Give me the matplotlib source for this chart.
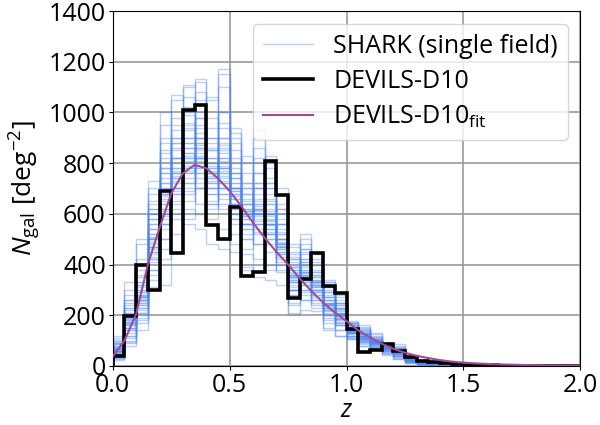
import numpy as np
import matplotlib
matplotlib.use("Agg")
import matplotlib.pyplot as plt

plt.rcParams["font.family"] = ["Open Sans", "DejaVu Sans"]
plt.rcParams["mathtext.fontset"] = "custom"
plt.rcParams["mathtext.rm"] = "Open Sans"
plt.rcParams["mathtext.it"] = "Open Sans:italic"
plt.rcParams["mathtext.bf"] = "Open Sans:bold"

# redshift bins (width 0.05 from 0 to 2)
z_edges = np.round(np.arange(0.0, 2.0001, 0.05), 3)

# DEVILS-D10 counts per bin [deg^-2]
devils = [40, 195, 400, 300, 690, 445, 1010, 1030, 555, 500,
          625, 353, 370, 808, 676, 267, 342, 447, 315, 287,
          145, 53, 62, 85, 57, 35, 19, 15, 10, 6,
          4, 3, 2, 1, 1, 1, 0, 0, 0, 0]

# fitted N(z) evaluated on the bin edges
fit_z = z_edges
fit_n = [37, 100, 205, 400, 545, 680, 760, 793, 780, 740,
         690, 630, 565, 505, 450, 400, 345, 295, 250, 210,
         177, 140, 113, 88, 68, 52, 40, 31, 23, 17,
         13, 10, 8, 6, 5, 4, 3, 2, 2, 1, 1]

# SHARK light-cone single-field realisations (bins 0 .. 1.5)
shark = [
    [55, 160, 250, 470, 620, 720, 800, 840, 760, 740, 690, 590, 610, 540, 470, 340, 370, 310, 230, 200, 140, 112, 95, 68, 52, 24, 12, 7, 4, 2],
    [80, 210, 300, 520, 700, 800, 900, 880, 700, 820, 640, 560, 650, 600, 500, 380, 330, 290, 260, 180, 150, 120, 90, 75, 60, 28, 10, 9, 5, 3],
    [40, 130, 220, 420, 560, 680, 760, 780, 820, 700, 720, 640, 560, 520, 430, 300, 400, 340, 210, 220, 130, 105, 100, 62, 48, 20, 14, 6, 3, 1],
    [110, 300, 480, 700, 950, 1050, 1100, 1120, 1050, 1150, 920, 800, 900, 800, 680, 470, 500, 420, 330, 270, 175, 155, 125, 90, 80, 38, 22, 15, 10, 6],
    [25, 80, 140, 310, 320, 450, 560, 540, 480, 460, 450, 390, 350, 340, 320, 210, 220, 215, 140, 120, 108, 80, 68, 47, 28, 12, 4, 1, 0, 0],
    [65, 180, 270, 500, 660, 760, 840, 800, 730, 790, 700, 610, 590, 580, 490, 360, 350, 330, 250, 190, 145, 118, 92, 72, 55, 26, 13, 8, 5, 2],
    [70, 150, 240, 450, 600, 700, 780, 850, 790, 760, 660, 620, 620, 530, 460, 330, 380, 300, 240, 210, 135, 110, 98, 70, 58, 22, 11, 7, 4, 2],
    [50, 190, 280, 540, 720, 820, 880, 820, 740, 810, 740, 580, 640, 610, 520, 390, 360, 350, 270, 230, 155, 125, 88, 78, 62, 30, 15, 10, 6, 3],
    [90, 230, 330, 580, 780, 880, 960, 950, 880, 900, 780, 680, 720, 660, 560, 420, 420, 370, 290, 240, 160, 135, 108, 80, 66, 32, 17, 11, 7, 4],
    [35, 110, 190, 380, 500, 600, 680, 700, 640, 620, 580, 500, 480, 450, 400, 280, 290, 260, 190, 160, 120, 95, 80, 58, 40, 16, 8, 4, 2, 1],
    [60, 170, 260, 490, 640, 740, 820, 830, 770, 770, 680, 600, 600, 560, 480, 350, 360, 320, 240, 200, 140, 115, 95, 70, 54, 25, 12, 8, 5, 2],
    [75, 200, 290, 510, 680, 780, 860, 860, 800, 780, 700, 620, 630, 590, 500, 360, 370, 330, 250, 210, 148, 120, 97, 73, 57, 27, 13, 8, 5, 3],
    [45, 140, 230, 440, 590, 690, 770, 790, 720, 720, 640, 560, 570, 520, 450, 320, 340, 300, 220, 185, 132, 108, 90, 66, 50, 22, 10, 6, 3, 1],
    [100, 260, 400, 620, 850, 950, 1020, 1000, 940, 1000, 850, 720, 800, 720, 620, 440, 460, 400, 310, 250, 168, 140, 115, 85, 72, 35, 20, 13, 8, 5],
    [30, 95, 170, 340, 420, 520, 620, 600, 560, 540, 520, 440, 420, 400, 370, 250, 260, 240, 170, 140, 115, 88, 75, 52, 35, 14, 6, 3, 1, 0],
    [58, 175, 255, 480, 650, 730, 810, 820, 760, 750, 690, 600, 605, 555, 475, 345, 355, 315, 235, 198, 142, 113, 94, 69, 53, 24, 11, 7, 4, 2],
    [68, 165, 265, 505, 610, 770, 790, 870, 780, 730, 670, 590, 620, 570, 470, 355, 345, 325, 245, 205, 138, 117, 96, 71, 56, 25, 12, 8, 4, 2],
    [85, 220, 320, 560, 740, 860, 930, 900, 850, 870, 760, 660, 700, 640, 540, 400, 410, 360, 280, 230, 158, 130, 105, 78, 63, 30, 16, 10, 6, 3],
    [48, 150, 210, 410, 540, 650, 720, 740, 680, 680, 620, 540, 530, 500, 440, 300, 320, 280, 215, 175, 128, 102, 86, 63, 47, 20, 9, 5, 3, 1],
    [62, 185, 275, 470, 670, 750, 830, 810, 750, 800, 700, 610, 615, 575, 485, 365, 365, 335, 245, 195, 145, 119, 93, 74, 56, 26, 13, 8, 5, 2],
    [72, 120, 310, 600, 560, 900, 700, 980, 650, 850, 600, 700, 520, 650, 420, 300, 450, 280, 300, 170, 160, 100, 110, 60, 70, 18, 14, 9, 3, 2],
    [42, 240, 200, 380, 780, 620, 950, 720, 900, 640, 800, 520, 700, 480, 560, 410, 300, 380, 200, 250, 125, 140, 78, 82, 45, 33, 8, 11, 6, 1],
    [95, 180, 360, 650, 500, 820, 650, 1050, 720, 1100, 680, 760, 600, 740, 450, 330, 480, 250, 330, 160, 170, 90, 120, 55, 75, 21, 18, 6, 5, 3],
    [52, 100, 230, 520, 880, 700, 1000, 760, 980, 700, 880, 560, 820, 500, 640, 280, 400, 400, 180, 260, 118, 150, 70, 88, 40, 36, 10, 12, 2, 2],
    [64, 280, 270, 460, 640, 980, 860, 900, 620, 960, 560, 650, 540, 680, 380, 430, 320, 300, 270, 140, 150, 125, 100, 65, 60, 24, 16, 7, 7, 3],
    [38, 160, 420, 560, 720, 580, 740, 1080, 850, 820, 760, 460, 760, 620, 520, 240, 520, 350, 220, 230, 110, 118, 82, 76, 30, 18, 6, 9, 2, 0],
    [120, 200, 250, 430, 1000, 760, 1110, 820, 700, 880, 720, 600, 680, 560, 600, 370, 380, 440, 250, 200, 140, 108, 130, 50, 85, 28, 20, 10, 8, 4],
    [58, 330, 300, 680, 600, 1070, 780, 860, 1060, 760, 940, 720, 580, 830, 480, 310, 420, 330, 340, 210, 176, 160, 88, 92, 55, 39, 12, 18, 4, 2],
    [28, 140, 180, 540, 460, 700, 580, 700, 760, 1000, 620, 830, 640, 600, 700, 480, 280, 260, 240, 280, 132, 96, 104, 58, 66, 15, 25, 5, 6, 1],
    [86, 90, 350, 620, 820, 640, 900, 940, 580, 700, 480, 380, 930, 700, 440, 360, 360, 320, 200, 190, 155, 130, 75, 86, 48, 30, 9, 8, 12, 3],
    [46, 210, 280, 730, 560, 880, 820, 640, 800, 1170, 700, 540, 560, 380, 560, 200, 340, 370, 290, 120, 105, 80, 115, 68, 38, 20, 11, 4, 3, 1],
    [66, 170, 500, 470, 680, 740, 1060, 900, 680, 660, 900, 580, 720, 560, 480, 390, 260, 300, 150, 240, 165, 112, 66, 45, 58, 26, 14, 10, 4, 2],
    [102, 250, 320, 360, 760, 820, 690, 1130, 900, 780, 640, 640, 480, 720, 500, 340, 440, 230, 260, 215, 138, 145, 92, 80, 26, 12, 18, 7, 5, 2],
    [33, 120, 260, 600, 900, 680, 880, 760, 740, 900, 740, 700, 600, 640, 530, 450, 330, 330, 230, 170, 145, 122, 100, 72, 64, 32, 7, 13, 3, 0],
    [78, 190, 210, 500, 700, 930, 760, 820, 820, 720, 600, 600, 760, 540, 460, 300, 390, 290, 310, 225, 128, 104, 98, 62, 50, 22, 13, 6, 6, 2],
    [56, 230, 380, 420, 580, 780, 940, 780, 700, 840, 820, 500, 660, 780, 410, 420, 370, 410, 230, 185, 150, 138, 84, 77, 70, 28, 15, 9, 4, 3],
    [70, 150, 290, 640, 760, 700, 840, 980, 760, 680, 700, 680, 560, 600, 580, 330, 300, 270, 270, 205, 170, 110, 108, 84, 44, 24, 10, 8, 5, 1],
    [44, 260, 240, 500, 620, 900, 720, 880, 860, 940, 660, 560, 860, 520, 500, 380, 460, 340, 200, 250, 135, 128, 90, 70, 60, 30, 17, 11, 6, 2],
    [92, 175, 330, 580, 840, 760, 990, 700, 640, 780, 760, 640, 620, 700, 620, 350, 350, 360, 320, 160, 120, 100, 95, 88, 52, 25, 12, 7, 3, 2],
    [60, 200, 270, 450, 680, 850, 800, 920, 780, 860, 580, 610, 700, 560, 470, 300, 410, 310, 260, 200, 142, 124, 102, 66, 58, 27, 13, 9, 5, 2],
]

fig = plt.figure(figsize=(6.0, 4.25), dpi=100)
ax = fig.add_axes([0.188, 0.139, 0.779, 0.835])

nbins = len(z_edges) - 1
for i, row in enumerate(shark):
    vals = np.zeros(nbins)
    vals[:len(row)] = row
    ax.stairs(vals, z_edges, baseline=0, color="#4f86f0", alpha=0.38,
              lw=1.0, label="SHARK (single field)" if i == 0 else None, zorder=2)

ax.stairs(devils, z_edges, baseline=0, color="black", lw=2.6,
          label="DEVILS-D10", zorder=3)
ax.plot(fit_z, fit_n, color="#a04b94", lw=1.5,
        label=r"DEVILS-D10$_{\rm fit}$", zorder=4)

ax.set_xlim(0, 2)
ax.set_ylim(0, 1400)
ax.set_xticks([0.0, 0.5, 1.0, 1.5, 2.0])
ax.set_yticks(np.arange(0, 1401, 200))
ax.tick_params(labelsize=18, length=3, width=0.8, pad=2)
ax.grid(True, color="#999999", lw=1.2)
ax.set_xlabel(r"$z$", fontsize=18, labelpad=0)
ax.set_ylabel(r"$N_{\rm gal}$ [deg$^{-2}$]", fontsize=19, labelpad=4)

leg = ax.legend(loc="upper right", fontsize=18, framealpha=0.8,
                handlelength=2.0, borderpad=0.4, labelspacing=0.4,
                handletextpad=0.8, borderaxespad=0.5)

fig.savefig("out.png", dpi=100)
